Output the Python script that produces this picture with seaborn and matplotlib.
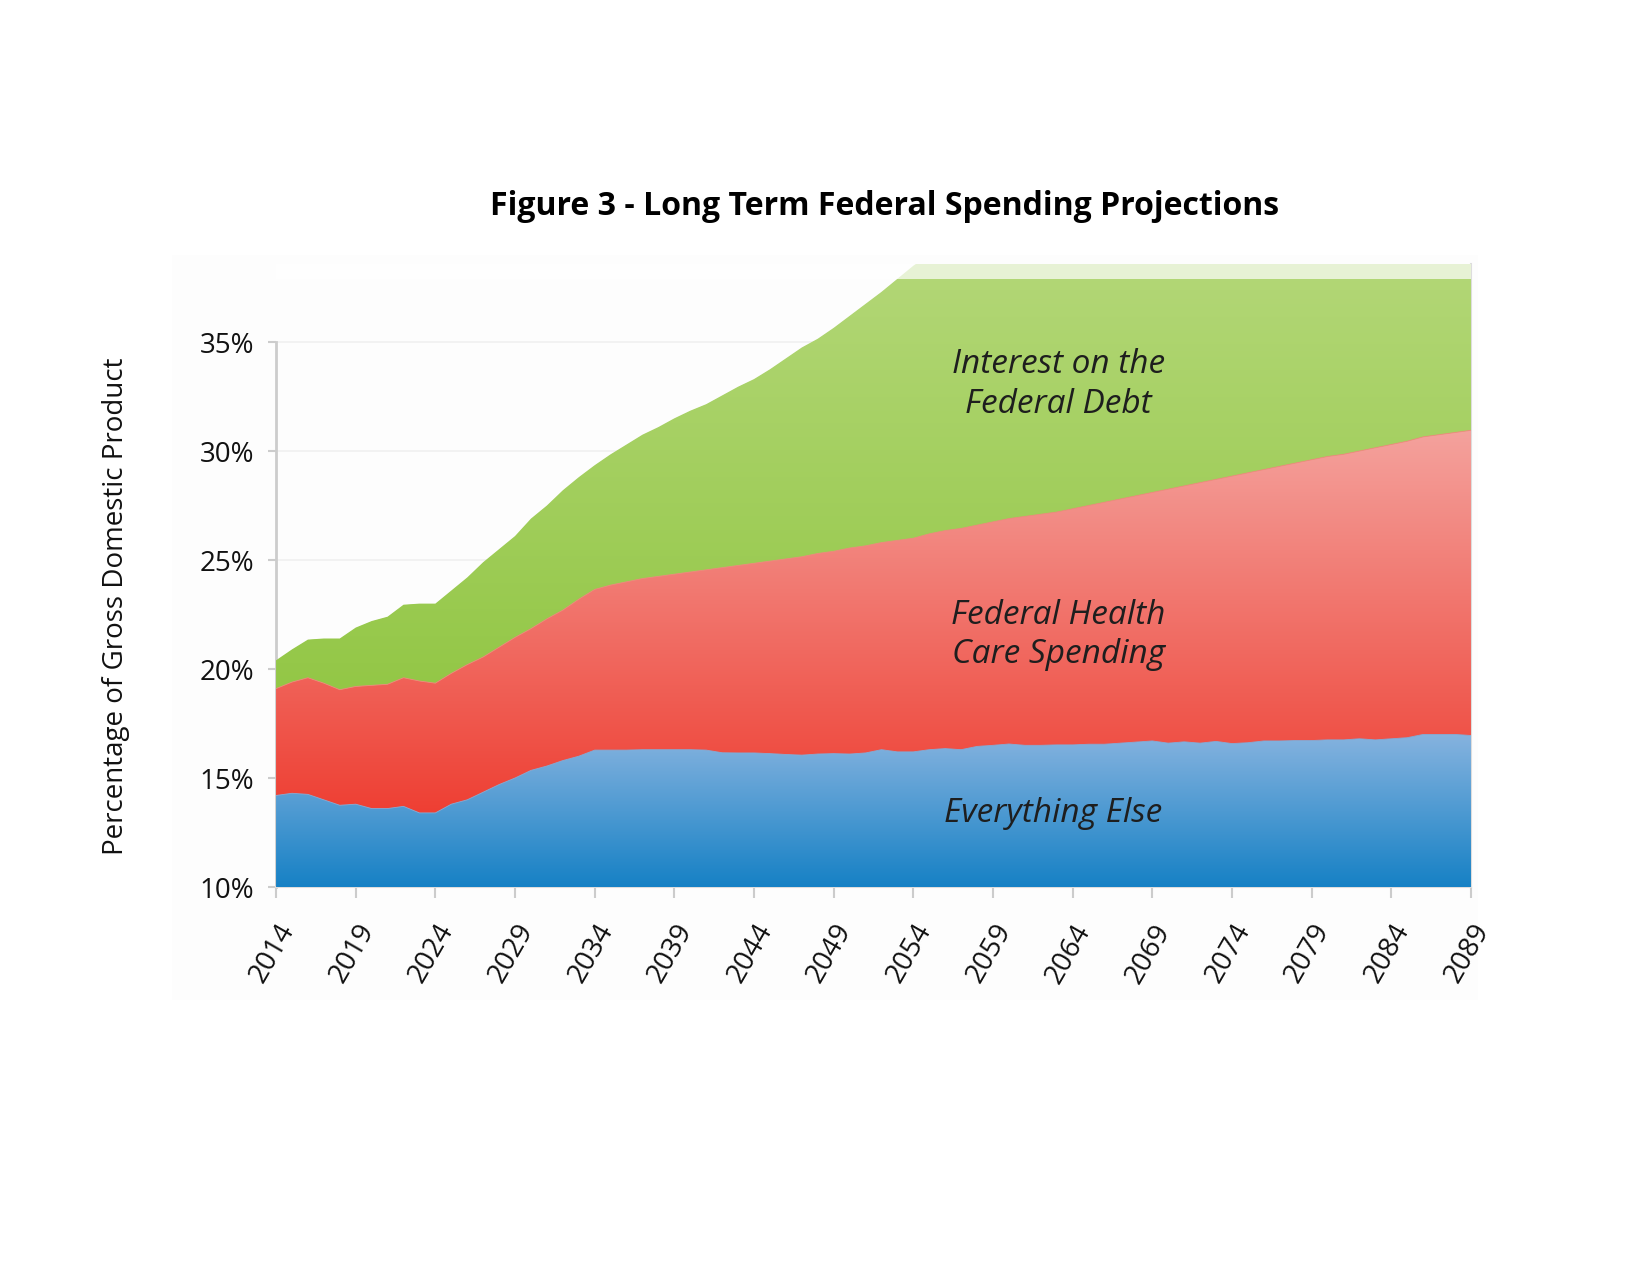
import numpy as np
import pandas as pd
import matplotlib
matplotlib.use("Agg")
import matplotlib.pyplot as plt
import seaborn as sns
from matplotlib.colors import LinearSegmentedColormap
from matplotlib.patches import Rectangle

# ---------------- data (percent of GDP, stacked levels) ----------------
years = list(range(2014, 2090))

# top of "Everything Else" band
everything_else_top = [
    14.2, 14.3, 14.25, 14.0, 13.75, 13.8, 13.6, 13.6, 13.7, 13.4,
    13.4, 13.8, 14.0, 14.35, 14.7, 15.0, 15.35, 15.55, 15.8, 16.0,
    16.28, 16.28, 16.28, 16.3, 16.3, 16.3, 16.3, 16.28, 16.16, 16.15,
    16.15, 16.12, 16.08, 16.05, 16.1, 16.12, 16.1, 16.15, 16.3, 16.2,
    16.2, 16.3, 16.35, 16.3, 16.45, 16.5, 16.56, 16.5, 16.5, 16.52,
    16.52, 16.55, 16.55, 16.6, 16.65, 16.7, 16.6, 16.66, 16.6, 16.68,
    16.58, 16.62, 16.7, 16.7, 16.72, 16.72, 16.75, 16.75, 16.8, 16.75,
    16.8, 16.85, 17.0, 17.0, 17.0, 16.95,
]

# top of "Federal Health Care Spending" band
health_care_top = [
    19.1, 19.4, 19.6, 19.35, 19.05, 19.2, 19.25, 19.3, 19.6, 19.45,
    19.35, 19.8, 20.2, 20.55, 21.0, 21.45, 21.85, 22.3, 22.7, 23.2,
    23.65, 23.85, 24.0, 24.15, 24.25, 24.35, 24.45, 24.55, 24.65, 24.75,
    24.85, 24.95, 25.05, 25.15, 25.3, 25.4, 25.55, 25.65, 25.8, 25.9,
    26.0, 26.2, 26.35, 26.45, 26.6, 26.75, 26.9, 27.0, 27.1, 27.2,
    27.35, 27.5, 27.65, 27.8, 27.95, 28.1, 28.25, 28.4, 28.55, 28.7,
    28.85, 29.0, 29.15, 29.3, 29.45, 29.6, 29.75, 29.85, 30.0, 30.15,
    30.3, 30.45, 30.65, 30.75, 30.85, 30.95,
]

# top of "Interest on the Federal Debt" band (total spending)
interest_top = [
    20.4, 20.9, 21.35, 21.4, 21.4, 21.9, 22.2, 22.4, 22.95, 23.0,
    23.0, 23.6, 24.2, 24.9, 25.5, 26.1, 26.9, 27.5, 28.2, 28.8,
    29.35, 29.85, 30.3, 30.75, 31.1, 31.5, 31.85, 32.15, 32.55, 32.95,
    33.3, 33.75, 34.25, 34.75, 35.15, 35.65, 36.2, 36.75, 37.3, 37.9,
    38.5, 39.0, 39.5, 40.0, 40.5, 41.0, 41.5, 42.0, 42.5, 43.0,
    43.5, 44.0, 44.5, 45.0, 45.5, 46.0, 46.5, 47.0, 47.5, 48.0,
    48.5, 49.0, 49.5, 50.0, 50.5, 51.0, 51.5, 52.0, 52.5, 53.0,
    53.5, 54.0, 54.5, 55.0, 55.5, 56.0,
]

band_labels = ["Everything Else", "Federal Health\nCare Spending", "Interest on the\nFederal Debt"]
ytick_values = [10, 15, 20, 25, 30, 35]
xtick_values = list(range(2014, 2090, 5))

df = pd.DataFrame({"year": years, "else": everything_else_top,
                   "health": health_care_top, "interest": interest_top})

# ---------------- style ----------------
sns.set_theme(style="white")
plt.rcParams["font.family"] = ["Open Sans", "DejaVu Sans"]

fig = plt.figure(figsize=(16.5, 12.75), dpi=100)
fig.patch.set_facecolor("white")
bg = Rectangle((172 / 1650, 1 - 1000 / 1275), (1478 - 172) / 1650, (1000 - 255) / 1275,
               transform=fig.transFigure, facecolor="#fdfdfd", edgecolor="none", zorder=-10)
fig.patches.append(bg)

ax = fig.add_axes([0.1673, 0.3043, 0.7242, 0.489])
ax.set_zorder(5)
ax.patch.set_alpha(0)

YMIN, YMAX, CLIP = 10, 38.6, 37.9


def grad_fill(lower, upper, c_bottom, c_top, ylo, yhi):
    poly = ax.fill_between(df["year"], lower, upper, color=c_bottom, lw=0, zorder=2)
    cmap = LinearSegmentedColormap.from_list("g", [c_bottom, c_top])
    grad = np.linspace(0, 1, 256).reshape(-1, 1)
    im = ax.imshow(grad, cmap=cmap, aspect="auto", origin="lower",
                   extent=[years[0], years[-1], ylo, yhi], zorder=3, interpolation="bicubic")
    im.set_clip_path(poly.get_paths()[0], transform=ax.transData)
    return poly


grad_fill(YMIN, df["else"], "#1681c5", "#86b3df", YMIN, df["else"].max())
grad_fill(df["else"], df["health"], "#ee3f33", "#f4a29d", df["else"].min(), df["health"].max())
grad_fill(df["health"], df["interest"], "#93c746", "#b3d777", df["health"].min(), YMAX)

# thin boundary lines via seaborn
sns.lineplot(data=df, x="year", y="else", ax=ax, color="#7fb0dd", lw=0.6, zorder=4)
sns.lineplot(data=df, x="year", y="health", ax=ax, color="#f2877f", lw=0.6, zorder=4)

# faded band above the clip level
ax.axhspan(CLIP, YMAX, color="white", alpha=0.7, lw=0, zorder=5)

ax.set_xlim(years[0], years[-1])
ax.set_ylim(YMIN, YMAX)

# grid
for v in ytick_values[1:]:
    ax.axhline(v, color="#f0f0f0", lw=1.2, zorder=1)

ax.set_yticks(ytick_values)
ax.set_yticklabels([f"{v}%" for v in ytick_values], fontsize=20, color="#111111")
ax.set_xticks(xtick_values)
ax.set_xticklabels([str(v) for v in xtick_values], fontsize=20, color="#111111",
                   rotation=60, ha="right", rotation_mode="anchor")
ax.tick_params(axis="x", length=8, width=1.5, color="#cccccc", pad=15, bottom=True)
ax.tick_params(axis="y", length=6, width=1.5, color="#cccccc", pad=10, left=True)

ax.spines["top"].set_visible(False)
ax.spines["left"].set_color("#cccccc")
ax.spines["left"].set_linewidth(2)
ax.spines["left"].set_bounds(YMIN, 35)
ax.spines["bottom"].set_color("#dddddd")
ax.spines["bottom"].set_linewidth(1.5)
ax.spines["right"].set_color("#dddddd")
ax.spines["right"].set_linewidth(1.5)
ax.set_xlabel("")
ax.set_ylabel("")

# band labels
lab_kw = dict(ha="center", va="center", fontsize=24, style="italic", color="#1e1e1e",
              linespacing=1.25, zorder=6)
ax.text(2063.1, 33.05, band_labels[2], **lab_kw)
ax.text(2063.1, 21.55, band_labels[1], **lab_kw)
ax.text(2062.8, 13.35, band_labels[0], **lab_kw)

fig.text(0.536, 0.838, "Figure 3 - Long Term Federal Spending Projections",
         ha="center", va="center", fontsize=23, fontweight="bold", color="black")
fig.text(0.0700, 0.5247, "Percentage of Gross Domestic Product", rotation=90,
         ha="center", va="center", fontsize=20, color="#111111")

fig.savefig("out.png", dpi=100)
